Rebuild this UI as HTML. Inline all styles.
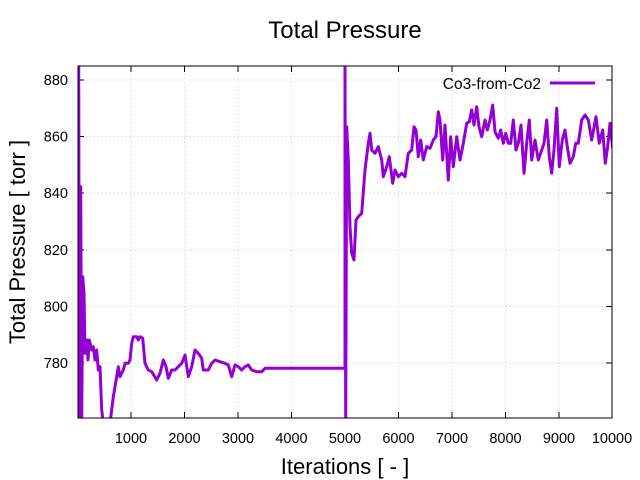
<!DOCTYPE html>
<html><head><style>
body{margin:0;background:#fff}
svg{display:block;font-family:"Liberation Sans",sans-serif}
</style></head><body>
<svg id="s" width="640" height="480" xmlns="http://www.w3.org/2000/svg">
<rect width="640" height="480" fill="#fff"/>
<g stroke="#c8c8c8" stroke-dasharray="1,3" stroke-width="1">
<line x1="131" y1="66" x2="131" y2="418"/><line x1="184.5" y1="66" x2="184.5" y2="418"/>
<line x1="238" y1="66" x2="238" y2="418"/><line x1="291.5" y1="66" x2="291.5" y2="418"/>
<line x1="345" y1="66" x2="345" y2="418"/><line x1="398.5" y1="66" x2="398.5" y2="418"/>
<line x1="452" y1="66" x2="452" y2="418"/><line x1="505.5" y1="66" x2="505.5" y2="418"/>
<line x1="559" y1="66" x2="559" y2="418"/>
<line x1="78" y1="80" x2="612" y2="80"/><line x1="78" y1="136.5" x2="612" y2="136.5"/>
<line x1="78" y1="193" x2="612" y2="193"/><line x1="78" y1="250" x2="612" y2="250"/>
<line x1="78" y1="306.5" x2="612" y2="306.5"/><line x1="78" y1="363" x2="612" y2="363"/>
</g>
<g stroke="#000" stroke-width="1">
<path d="M131,418v-6M184.5,418v-6M238,418v-6M291.5,418v-6M345,418v-6M398.5,418v-6M452,418v-6M505.5,418v-6M559,418v-6M131,66v6M184.5,66v6M238,66v6M291.5,66v6M345,66v6M398.5,66v6M452,66v6M505.5,66v6M559,66v6"/>
<path d="M78,80h6M78,136.5h6M78,193h6M78,250h6M78,306.5h6M78,363h6M612,80h-6M612,136.5h-6M612,193h-6M612,250h-6M612,306.5h-6M612,363h-6"/>
</g>
<g fill="#000" font-size="14.5" text-anchor="end">
<text x="68" y="85">880</text><text x="68" y="141.5">860</text><text x="68" y="198">840</text>
<text x="68" y="255">820</text><text x="68" y="311.5">800</text><text x="68" y="368">780</text>
</g>
<g fill="#000" font-size="14.5" text-anchor="middle">
<text x="131" y="443">1000</text><text x="184.5" y="443">2000</text><text x="238" y="443">3000</text>
<text x="291.5" y="443">4000</text><text x="345" y="443">5000</text><text x="398.5" y="443">6000</text>
<text x="452" y="443">7000</text><text x="505.5" y="443">8000</text><text x="559" y="443">9000</text>
<text x="612" y="443">10000</text>
</g>
<text x="345" y="38" font-size="24" text-anchor="middle">Total Pressure</text>
<text x="345" y="474" font-size="22" text-anchor="middle">Iterations [ - ]</text>
<text transform="translate(25,242) rotate(-90)" font-size="22" text-anchor="middle">Total Pressure [ torr ]</text>
<text x="541" y="89" font-size="15.5" text-anchor="end">Co3-from-Co2</text>
<line x1="550" y1="83" x2="595" y2="83" stroke="#9400d3" stroke-width="3"/>
<defs><clipPath id="c"><rect x="78" y="66" width="534" height="352"/></clipPath></defs>
<polyline id="p" clip-path="url(#c)" fill="none" stroke="#9400d3" stroke-width="3" stroke-linejoin="round"/>
<rect x="78" y="66" width="534" height="352" fill="none" stroke="#000" stroke-width="1"/>
</svg>
<script>
var a=[[56,0],[58,1100],[62,380],[65,1090],[68,650],[72,700],[75,880],[80,840],[84,900],[88,840],[95,870],[100,860],[105,900],[110,870],[115,930],[120,920],[125,1050],[130,1090],[150,1090],[160,1010],[170,950],[175,920],[180,950],[190,930],[195,910],[205,910],[210,900],[215,850],[220,830],[230,830],[235,840],[240,830],[248,835],[255,910],[265,930],[275,935],[290,960],[300,940],[310,900],[318,920],[325,955],[335,930],[345,930],[355,920],[365,910],[375,885],[385,950],[395,920],[405,870],[415,880],[425,895],[430,930],[445,930],[455,910],[465,900],[480,905],[495,910],[505,915],[515,950],[525,915],[535,920],[545,930],[555,920],[565,915],[575,930],[590,935],[605,935],[615,925],[855,925],[855,0],[857,1100]];
var b=[[50,200],[55,300],[60,500],[65,580],[72,600],[78,480],[85,470],[95,460],[105,330],[115,250],[120,220],[125,270],[135,280],[145,260],[155,300],[160,350],[170,320],[178,290],[188,370],[195,330],[205,350],[215,340],[225,350],[235,280],[245,270],[252,200],[258,210],[265,290],[272,240],[280,300],[290,260],[300,265],[310,240],[318,230],[325,155],[330,180],[338,300],[345,195],[355,360],[362,230],[370,320],[380,230],[390,300],[400,250],[410,190],[418,185],[425,150],[432,195],[440,140],[447,200],[455,230],[465,180],[472,210],[480,180],[488,135],[495,215],[505,235],[512,210],[520,250],[527,220],[535,250],[542,250],[550,180],[558,270],[565,250],[573,195],[582,340],[590,250],[598,180],[605,300],[615,240],[625,300],[635,270],[642,250],[650,180],[658,290],[665,340],[672,270],[680,145],[688,320],[697,240],[705,210],[712,260],[720,310],[730,290],[737,250],[745,250],[755,180],[765,165],[775,180],[785,240],[798,170],[808,250],[818,210],[826,310],[833,260],[840,190],[848,265]];
var pts=[];
a.forEach(function(p){pts.push((60+p[0]/3).toFixed(1)+","+(60+p[1]/3).toFixed(1));});
b.forEach(function(p){pts.push((330+p[0]/3).toFixed(1)+","+(60+p[1]/3).toFixed(1));});
document.getElementById("p").setAttribute("points",pts.join(" "));
</script>
</body></html>
